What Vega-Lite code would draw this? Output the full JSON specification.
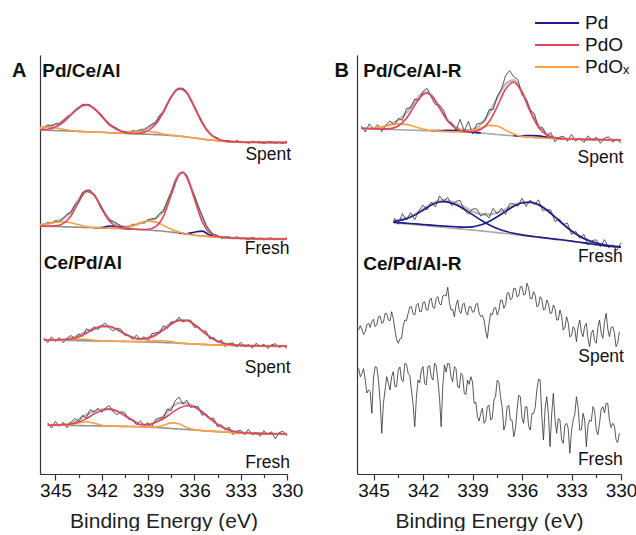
{
  "$schema": "https://vega.github.io/schema/vega-lite/v6.json",
  "background": "white",
  "padding": {"left": 12, "top": 11, "right": 0, "bottom": 0},
  "bounds": "flush",
  "spacing": 70,
  "config": {
    "font": "Liberation Sans",
    "view": {"stroke": null},
    "axis": {"grid": false},
    "axisX": {"domainColor": "#333", "tickColor": "#333", "domainWidth": 1.2, "tickWidth": 1.2, "labelFontSize": 19, "labelColor": "#111", "labelPadding": 1, "labelFlush": false, "titleFontSize": 21, "titleFontWeight": "normal", "titleColor": "#222", "titlePadding": 10},
    "axisY": {"labels": false, "ticks": false, "domainColor": "#333", "domainWidth": 1.2},
    "legend": {"labelFont": "Liberation Sans"}
  },
  "resolve": {"scale": {"color": "independent", "x": "independent", "y": "independent"}, "legend": {"color": "independent"}},
  "datasets": {
    "fitsA": [
      {"s":"A1","x":346,"bg":344,"PdO":344.2,"PdOx":346,"env":346.2},
      {"s":"A1","x":345.5,"bg":343.7,"PdO":344.7,"PdOx":346.7,"env":347.7},
      {"s":"A1","x":345,"bg":343.5,"PdO":346.9,"PdOx":346,"env":349.4},
      {"s":"A1","x":344.5,"bg":343.2,"PdO":351.6,"PdOx":344.7,"env":353.1},
      {"s":"A1","x":344,"bg":343,"PdO":359,"PdOx":343.5,"env":359.5},
      {"s":"A1","x":343.5,"bg":342.6,"PdO":366.3,"PdOx":342.6,"env":366.3},
      {"s":"A1","x":343,"bg":342.3,"PdO":369.3,"PdOx":342.3,"env":369.3},
      {"s":"A1","x":342.5,"bg":342,"PdO":365.7,"PdOx":342,"env":365.7},
      {"s":"A1","x":342,"bg":341.7,"PdO":357.7,"PdOx":341.7,"env":357.7},
      {"s":"A1","x":341.5,"bg":341.3,"PdO":349.7,"PdOx":341.3,"env":349.7},
      {"s":"A1","x":341,"bg":341,"PdO":344.4,"PdOx":341,"env":344.4},
      {"s":"A1","x":340.5,"bg":340.6,"PdO":341.6,"PdOx":341.1,"env":342.1},
      {"s":"A1","x":340,"bg":340.3,"PdO":340.5,"PdOx":341.8,"env":342},
      {"s":"A1","x":339.5,"bg":340,"PdO":340.9,"PdOx":342.7,"env":343.6},
      {"s":"A1","x":339,"bg":339.8,"PdO":343.4,"PdOx":342.8,"env":346.4},
      {"s":"A1","x":338.5,"bg":339.4,"PdO":349.9,"PdOx":341.6,"env":352.1},
      {"s":"A1","x":338,"bg":339,"PdO":362,"PdOx":340,"env":363},
      {"s":"A1","x":337.5,"bg":338.5,"PdO":376.9,"PdOx":338.8,"env":377.2},
      {"s":"A1","x":337,"bg":338,"PdO":385.5,"PdOx":338,"env":385.5},
      {"s":"A1","x":336.5,"bg":337,"PdO":381.4,"PdOx":337,"env":381.4},
      {"s":"A1","x":336,"bg":336,"PdO":367.1,"PdOx":336,"env":367.1},
      {"s":"A1","x":335.5,"bg":335,"PdO":351.4,"PdOx":335,"env":351.4},
      {"s":"A1","x":335,"bg":334,"PdO":340.5,"PdOx":334,"env":340.5},
      {"s":"A1","x":334.5,"bg":333.2,"PdO":335.1,"PdOx":333.2,"env":335.1},
      {"s":"A1","x":334,"bg":332.5,"PdO":332.9,"PdOx":332.5,"env":332.9},
      {"s":"A1","x":333,"bg":332,"PdO":332,"PdOx":332,"env":332},
      {"s":"A1","x":332,"bg":331.7,"PdO":331.7,"PdOx":331.7,"env":331.7},
      {"s":"A1","x":331,"bg":331.5,"PdO":331.5,"PdOx":331.5,"env":331.5},
      {"s":"A1","x":330,"bg":331.5,"PdO":331.5,"PdOx":331.5,"env":331.5},

      {"s":"A2","x":346,"bg":248,"PdO":248,"PdOx":249,"env":249},
      {"s":"A2","x":345.5,"bg":247.8,"PdO":247.8,"PdOx":250.3,"env":250.3},
      {"s":"A2","x":345,"bg":247.5,"PdO":248.1,"PdOx":251.7,"env":252.3},
      {"s":"A2","x":344.5,"bg":247.3,"PdO":250.4,"PdOx":252.3,"env":255.4},
      {"s":"A2","x":344,"bg":247,"PdO":258,"PdOx":251.2,"env":262.2},
      {"s":"A2","x":343.5,"bg":246.8,"PdO":271.8,"PdOx":249.3,"env":274.3},
      {"s":"A2","x":343,"bg":246.5,"PdO":282.6,"PdOx":247.5,"env":283.6},
      {"s":"A2","x":342.5,"bg":246.3,"PdO":279.2,"PdOx":246.6,"env":279.5},
      {"s":"A2","x":342,"bg":246,"PdO":265.1,"PdOx":246,"env":265.6},
      {"s":"A2","x":341.5,"bg":245.8,"PdO":252.8,"PdOx":245.8,"env":255},
      {"s":"A2","x":341,"bg":245.5,"PdO":247.2,"PdOx":245.8,"env":249.4},
      {"s":"A2","x":340.5,"bg":245.3,"PdO":245.6,"PdOx":246.5,"env":247.1},
      {"s":"A2","x":340,"bg":245,"PdO":245,"PdOx":248.3,"env":248.3},
      {"s":"A2","x":339.5,"bg":244.5,"PdO":244.5,"PdOx":250.9,"env":250.9},
      {"s":"A2","x":339,"bg":244,"PdO":244.7,"PdOx":252.7,"env":253.4},
      {"s":"A2","x":338.5,"bg":243.4,"PdO":247.4,"PdOx":251.9,"env":255.9},
      {"s":"A2","x":338,"bg":242.8,"PdO":257.9,"PdOx":248.6,"env":263.7},
      {"s":"A2","x":337.5,"bg":241.9,"PdO":279,"PdOx":244.7,"env":281.8},
      {"s":"A2","x":337,"bg":241,"PdO":299,"PdOx":242,"env":300},
      {"s":"A2","x":336.75,"bg":240.5,"PdO":301.5,"PdOx":240.8,"env":301.8},
      {"s":"A2","x":336.5,"bg":239.9,"PdO":297.2,"PdOx":240.1,"env":297.8},
      {"s":"A2","x":336,"bg":238.8,"PdO":275,"PdOx":238.8,"env":278},
      {"s":"A2","x":335.5,"bg":238,"PdO":252.5,"PdOx":238,"env":257.4},
      {"s":"A2","x":335,"bg":237.3,"PdO":241,"PdOx":237.3,"env":242.6},
      {"s":"A2","x":334.5,"bg":236.9,"PdO":237.5,"PdOx":236.9,"env":237.6},
      {"s":"A2","x":334,"bg":236.5,"PdO":236.5,"PdOx":236.5,"env":236.5},
      {"s":"A2","x":333,"bg":235.7,"PdO":235.7,"PdOx":235.7,"env":235.7},
      {"s":"A2","x":332,"bg":235.3,"PdO":235.3,"PdOx":235.3,"env":235.3},
      {"s":"A2","x":331,"bg":235,"PdO":235,"PdOx":235,"env":235},
      {"s":"A2","x":330,"bg":235,"PdO":235,"PdOx":235,"env":235},

      {"s":"A3","x":345.75,"bg":134,"PdO":134,"PdOx":134,"env":134},
      {"s":"A3","x":345.5,"bg":134,"PdO":134,"PdOx":134,"env":134},
      {"s":"A3","x":345,"bg":133.8,"PdO":133.9,"PdOx":133.8,"env":133.9},
      {"s":"A3","x":344.5,"bg":133.7,"PdO":134.2,"PdOx":134,"env":134.5},
      {"s":"A3","x":344,"bg":133.5,"PdO":135,"PdOx":134.4,"env":135.9},
      {"s":"A3","x":343.5,"bg":133.4,"PdO":137.1,"PdOx":135,"env":138.7},
      {"s":"A3","x":343,"bg":133.3,"PdO":140.7,"PdOx":134.7,"env":142.1},
      {"s":"A3","x":342.5,"bg":133.1,"PdO":144.7,"PdOx":133.8,"env":145.4},
      {"s":"A3","x":342,"bg":133,"PdO":147.6,"PdOx":133.2,"env":147.8},
      {"s":"A3","x":341.5,"bg":132.9,"PdO":147.5,"PdOx":132.9,"env":147.5},
      {"s":"A3","x":341,"bg":132.8,"PdO":144.4,"PdOx":132.8,"env":144.4},
      {"s":"A3","x":340.5,"bg":132.6,"PdO":140,"PdOx":132.6,"env":140},
      {"s":"A3","x":340,"bg":132.5,"PdO":136.6,"PdOx":132.5,"env":136.6},
      {"s":"A3","x":339.5,"bg":132.3,"PdO":135,"PdOx":132.3,"env":135},
      {"s":"A3","x":339,"bg":132.1,"PdO":135.8,"PdOx":132.6,"env":136.3},
      {"s":"A3","x":338.5,"bg":131.8,"PdO":138.8,"PdOx":133.2,"env":140.2},
      {"s":"A3","x":338,"bg":131.5,"PdO":143.9,"PdOx":133.3,"env":145.7},
      {"s":"A3","x":337.5,"bg":131.2,"PdO":149.6,"PdOx":132.4,"env":150.8},
      {"s":"A3","x":337,"bg":130.8,"PdO":153.5,"PdOx":131.2,"env":153.9},
      {"s":"A3","x":336.5,"bg":130.4,"PdO":153.5,"PdOx":130.4,"env":153.5},
      {"s":"A3","x":336,"bg":130,"PdO":149.5,"PdOx":130,"env":149.5},
      {"s":"A3","x":335.5,"bg":129.6,"PdO":143.2,"PdOx":129.6,"env":143.2},
      {"s":"A3","x":335,"bg":129.3,"PdO":137.2,"PdOx":129.3,"env":137.2},
      {"s":"A3","x":334.5,"bg":129,"PdO":132.8,"PdOx":129,"env":132.8},
      {"s":"A3","x":334,"bg":128.8,"PdO":130.3,"PdOx":128.8,"env":130.3},
      {"s":"A3","x":333.5,"bg":128.6,"PdO":129.1,"PdOx":128.6,"env":129.1},
      {"s":"A3","x":333,"bg":128.5,"PdO":128.6,"PdOx":128.5,"env":128.6},
      {"s":"A3","x":332,"bg":128.2,"PdO":128.2,"PdOx":128.2,"env":128.2},
      {"s":"A3","x":331,"bg":128,"PdO":128,"PdOx":128,"env":128},
      {"s":"A3","x":330,"bg":128,"PdO":128,"PdOx":128,"env":128},

      {"s":"A4","x":345.5,"bg":49,"PdO":49,"PdOx":49,"env":49},
      {"s":"A4","x":345,"bg":48.9,"PdO":48.9,"PdOx":48.9,"env":48.9},
      {"s":"A4","x":344.5,"bg":48.7,"PdO":49.2,"PdOx":48.7,"env":49.2},
      {"s":"A4","x":344,"bg":48.6,"PdO":50,"PdOx":49.4,"env":50.8},
      {"s":"A4","x":343.5,"bg":48.5,"PdO":52,"PdOx":51.1,"env":54.6},
      {"s":"A4","x":343,"bg":48.3,"PdO":55.4,"PdOx":52.3,"env":59.4},
      {"s":"A4","x":342.5,"bg":48.2,"PdO":59.9,"PdOx":50.8,"env":62.5},
      {"s":"A4","x":342,"bg":48,"PdO":63.6,"PdOx":48.8,"env":64.4},
      {"s":"A4","x":341.5,"bg":47.9,"PdO":64.9,"PdOx":48,"env":65},
      {"s":"A4","x":341,"bg":47.8,"PdO":62.8,"PdOx":47.8,"env":62.8},
      {"s":"A4","x":340.5,"bg":47.6,"PdO":58.4,"PdOx":47.6,"env":58.4},
      {"s":"A4","x":340,"bg":47.5,"PdO":53.8,"PdOx":47.5,"env":53.8},
      {"s":"A4","x":339.5,"bg":47.3,"PdO":49.5,"PdOx":47.3,"env":49.5},
      {"s":"A4","x":339,"bg":47,"PdO":49.3,"PdOx":47,"env":49.3},
      {"s":"A4","x":338.5,"bg":46.5,"PdO":51.7,"PdOx":47.1,"env":52.3},
      {"s":"A4","x":338,"bg":46,"PdO":55.3,"PdOx":48.7,"env":58},
      {"s":"A4","x":337.5,"bg":45.5,"PdO":60.7,"PdOx":51.1,"env":66.3},
      {"s":"A4","x":337,"bg":45,"PdO":65.7,"PdOx":50.2,"env":70.9},
      {"s":"A4","x":336.5,"bg":44.5,"PdO":68.3,"PdOx":46.6,"env":70.4},
      {"s":"A4","x":336,"bg":44,"PdO":67,"PdOx":44.4,"env":67.4},
      {"s":"A4","x":335.5,"bg":43.4,"PdO":62.1,"PdOx":43.4,"env":62.1},
      {"s":"A4","x":335,"bg":42.9,"PdO":55.6,"PdOx":42.9,"env":55.6},
      {"s":"A4","x":334.5,"bg":42.4,"PdO":49.7,"PdOx":42.4,"env":49.7},
      {"s":"A4","x":334,"bg":41.9,"PdO":45.4,"PdOx":41.9,"env":45.4},
      {"s":"A4","x":333.5,"bg":41.4,"PdO":42.8,"PdOx":41.4,"env":42.8},
      {"s":"A4","x":333,"bg":41,"PdO":41.5,"PdOx":41,"env":41.5},
      {"s":"A4","x":332,"bg":40.6,"PdO":40.6,"PdOx":40.6,"env":40.6},
      {"s":"A4","x":331,"bg":40.2,"PdO":40.2,"PdOx":40.2,"env":40.2},
      {"s":"A4","x":330,"bg":40,"PdO":40,"PdOx":40,"env":40}
    ],
    "pdA": [
      {"s":"A2a","x":342.5,"y":246.3},{"s":"A2a","x":342,"y":246.5},{"s":"A2a","x":341.5,"y":248},{"s":"A2a","x":341,"y":247.4},{"s":"A2a","x":340.5,"y":245.6},{"s":"A2a","x":340,"y":245},
      {"s":"A2b","x":337,"y":241},{"s":"A2b","x":336.5,"y":240.3},{"s":"A2b","x":336,"y":241.8},{"s":"A2b","x":335.5,"y":242.9},{"s":"A2b","x":335,"y":238.9},{"s":"A2b","x":334.5,"y":237},{"s":"A2b","x":334,"y":236.5}
    ],
    "rawA": [
      {"s":"A1","x":346,"y":347},{"s":"A1","x":345.75,"y":345.8},{"s":"A1","x":345.5,"y":349.2},{"s":"A1","x":345.25,"y":348},
      {"s":"A1","x":345,"y":350.4},{"s":"A1","x":344.75,"y":349.8},{"s":"A1","x":344.5,"y":353.4},{"s":"A1","x":344.25,"y":357.5},
      {"s":"A1","x":344,"y":358.6},{"s":"A1","x":343.75,"y":363.5},{"s":"A1","x":343.5,"y":365},{"s":"A1","x":343.25,"y":369.9},
      {"s":"A1","x":343,"y":369.1},{"s":"A1","x":342.75,"y":369.2},{"s":"A1","x":342.5,"y":364.6},{"s":"A1","x":342.25,"y":362.2},
      {"s":"A1","x":342,"y":359},{"s":"A1","x":341.75,"y":352.9},{"s":"A1","x":341.5,"y":348.3},{"s":"A1","x":341.25,"y":347.7},
      {"s":"A1","x":341,"y":345.5},{"s":"A1","x":340.75,"y":342.6},{"s":"A1","x":340.5,"y":342.3},{"s":"A1","x":340.25,"y":341},
      {"s":"A1","x":340,"y":343.5},{"s":"A1","x":339.75,"y":342.5},{"s":"A1","x":339.5,"y":344.4},{"s":"A1","x":339.25,"y":343.5},
      {"s":"A1","x":339,"y":347.4},{"s":"A1","x":338.75,"y":349.6},{"s":"A1","x":338.5,"y":351.4},{"s":"A1","x":338.25,"y":358.7},
      {"s":"A1","x":338,"y":361.8},{"s":"A1","x":337.75,"y":370.6},{"s":"A1","x":337.5,"y":376.8},{"s":"A1","x":337.25,"y":383.4},
      {"s":"A1","x":337,"y":384.6},{"s":"A1","x":336.75,"y":386},{"s":"A1","x":336.5,"y":382.4},{"s":"A1","x":336.25,"y":373.7},
      {"s":"A1","x":336,"y":367.6},{"s":"A1","x":335.75,"y":359.3},{"s":"A1","x":335.5,"y":352.7},{"s":"A1","x":335.25,"y":344.5},
      {"s":"A1","x":335,"y":341.2},{"s":"A1","x":334.75,"y":337.1},{"s":"A1","x":334.5,"y":336.2},{"s":"A1","x":334.25,"y":332.6},
      {"s":"A1","x":334,"y":333.2},{"s":"A1","x":333.75,"y":333.3},{"s":"A1","x":333.5,"y":331.4},{"s":"A1","x":333.25,"y":333.6},
      {"s":"A1","x":333,"y":331.4},{"s":"A1","x":332.75,"y":332.3},{"s":"A1","x":332.5,"y":330.7},{"s":"A1","x":332.25,"y":333},
      {"s":"A1","x":332,"y":331.4},{"s":"A1","x":331.75,"y":332.5},{"s":"A1","x":331.5,"y":330.4},{"s":"A1","x":331.25,"y":332.2},
      {"s":"A1","x":331,"y":332.5},{"s":"A1","x":330.75,"y":330.8},{"s":"A1","x":330.5,"y":331.7},{"s":"A1","x":330.25,"y":330.5},
      {"s":"A1","x":330,"y":332.9},

      {"s":"A2","x":346,"y":249.8},{"s":"A2","x":345.75,"y":248.4},{"s":"A2","x":345.5,"y":251.8},{"s":"A2","x":345.25,"y":250.8},
      {"s":"A2","x":345,"y":253.3},{"s":"A2","x":344.75,"y":252.3},{"s":"A2","x":344.5,"y":255.7},{"s":"A2","x":344.25,"y":260},
      {"s":"A2","x":344,"y":261.3},{"s":"A2","x":343.75,"y":268.8},{"s":"A2","x":343.5,"y":273},{"s":"A2","x":343.25,"y":281.4},
      {"s":"A2","x":343,"y":283.4},{"s":"A2","x":342.75,"y":284.1},{"s":"A2","x":342.5,"y":278.4},{"s":"A2","x":342.25,"y":273.5},
      {"s":"A2","x":342,"y":266.9},{"s":"A2","x":341.75,"y":259.2},{"s":"A2","x":341.5,"y":253.6},{"s":"A2","x":341.25,"y":252.7},
      {"s":"A2","x":341,"y":250.5},{"s":"A2","x":340.75,"y":247.6},{"s":"A2","x":340.5,"y":247.3},{"s":"A2","x":340.25,"y":246.7},
      {"s":"A2","x":340,"y":249.8},{"s":"A2","x":339.75,"y":249.3},{"s":"A2","x":339.5,"y":251.7},{"s":"A2","x":339.25,"y":250.7},
      {"s":"A2","x":339,"y":254.4},{"s":"A2","x":338.75,"y":255.1},{"s":"A2","x":338.5,"y":255.2},{"s":"A2","x":338.25,"y":260.7},
      {"s":"A2","x":338,"y":262.5},{"s":"A2","x":337.75,"y":273.1},{"s":"A2","x":337.5,"y":281.4},{"s":"A2","x":337.25,"y":292.9},
      {"s":"A2","x":337,"y":299.1},{"s":"A2","x":336.75,"y":301.9},{"s":"A2","x":336.5,"y":298.8},{"s":"A2","x":336.25,"y":286.7},
      {"s":"A2","x":336,"y":278.5},{"s":"A2","x":335.75,"y":267.3},{"s":"A2","x":335.5,"y":258.7},{"s":"A2","x":335.25,"y":248.5},
      {"s":"A2","x":335,"y":243.3},{"s":"A2","x":334.75,"y":239.5},{"s":"A2","x":334.5,"y":238.7},{"s":"A2","x":334.25,"y":235.6},
      {"s":"A2","x":334,"y":236.8},{"s":"A2","x":333.75,"y":237.2},{"s":"A2","x":333.5,"y":235.3},{"s":"A2","x":333.25,"y":237.4},
      {"s":"A2","x":333,"y":235.1},{"s":"A2","x":332.75,"y":236},{"s":"A2","x":332.5,"y":234.4},{"s":"A2","x":332.25,"y":236.6},
      {"s":"A2","x":332,"y":235},{"s":"A2","x":331.75,"y":236},{"s":"A2","x":331.5,"y":234},{"s":"A2","x":331.25,"y":235.7},
      {"s":"A2","x":331,"y":236},{"s":"A2","x":330.75,"y":234.3},{"s":"A2","x":330.5,"y":235.2},{"s":"A2","x":330.25,"y":234},
      {"s":"A2","x":330,"y":236.4},

      {"s":"A3","x":345.75,"y":135.9},{"s":"A3","x":345.5,"y":131.4},{"s":"A3","x":345.25,"y":137.2},{"s":"A3","x":345,"y":132.8},
      {"s":"A3","x":344.75,"y":136.4},{"s":"A3","x":344.5,"y":131.2},{"s":"A3","x":344.25,"y":135.9},{"s":"A3","x":344,"y":138.5},
      {"s":"A3","x":343.75,"y":135.3},{"s":"A3","x":343.5,"y":140},{"s":"A3","x":343.25,"y":137.5},{"s":"A3","x":343,"y":145.2},
      {"s":"A3","x":342.75,"y":143.4},{"s":"A3","x":342.5,"y":147.4},{"s":"A3","x":342.25,"y":144.4},{"s":"A3","x":342,"y":148.9},
      {"s":"A3","x":341.75,"y":150.9},{"s":"A3","x":341.5,"y":145.7},{"s":"A3","x":341.25,"y":143.1},{"s":"A3","x":341,"y":145.9},
      {"s":"A3","x":340.75,"y":144.6},{"s":"A3","x":340.5,"y":138.7},{"s":"A3","x":340.25,"y":138.7},{"s":"A3","x":340,"y":134.4},
      {"s":"A3","x":339.75,"y":139.1},{"s":"A3","x":339.5,"y":134.3},{"s":"A3","x":339.25,"y":137.3},{"s":"A3","x":339,"y":133},
      {"s":"A3","x":338.75,"y":140.4},{"s":"A3","x":338.5,"y":141.1},{"s":"A3","x":338.25,"y":141.5},{"s":"A3","x":338,"y":148.3},
      {"s":"A3","x":337.75,"y":145.6},{"s":"A3","x":337.5,"y":152.1},{"s":"A3","x":337.25,"y":151.5},{"s":"A3","x":337,"y":157},
      {"s":"A3","x":336.75,"y":152},{"s":"A3","x":336.5,"y":153.7},{"s":"A3","x":336.25,"y":154},{"s":"A3","x":336,"y":146.6},
      {"s":"A3","x":335.75,"y":147.5},{"s":"A3","x":335.5,"y":142.8},{"s":"A3","x":335.25,"y":143.1},{"s":"A3","x":335,"y":135},
      {"s":"A3","x":334.75,"y":136.5},{"s":"A3","x":334.5,"y":131.7},{"s":"A3","x":334.25,"y":133.9},{"s":"A3","x":334,"y":127.2},
      {"s":"A3","x":333.75,"y":130.4},{"s":"A3","x":333.5,"y":131.1},{"s":"A3","x":333.25,"y":127},{"s":"A3","x":333,"y":131.9},
      {"s":"A3","x":332.75,"y":127.2},{"s":"A3","x":332.5,"y":129.3},{"s":"A3","x":332.25,"y":125.9},{"s":"A3","x":332,"y":130.8},
      {"s":"A3","x":331.75,"y":127.5},{"s":"A3","x":331.5,"y":129.9},{"s":"A3","x":331.25,"y":125.5},{"s":"A3","x":331,"y":129.3},
      {"s":"A3","x":330.75,"y":130.2},{"s":"A3","x":330.5,"y":126.5},{"s":"A3","x":330.25,"y":128.4},{"s":"A3","x":330,"y":125.8},

      {"s":"A4","x":345.5,"y":51},{"s":"A4","x":345.25,"y":46},{"s":"A4","x":345,"y":52.7},{"s":"A4","x":344.75,"y":47.7},
      {"s":"A4","x":344.5,"y":51.7},{"s":"A4","x":344.25,"y":46.2},{"s":"A4","x":344,"y":51.6},{"s":"A4","x":343.75,"y":55.7},
      {"s":"A4","x":343.5,"y":52.3},{"s":"A4","x":343.25,"y":58.5},{"s":"A4","x":343,"y":56.1},{"s":"A4","x":342.75,"y":64.5},
      {"s":"A4","x":342.5,"y":62},{"s":"A4","x":342.25,"y":65.8},{"s":"A4","x":342,"y":61.6},{"s":"A4","x":341.75,"y":66.2},
      {"s":"A4","x":341.5,"y":68.3},{"s":"A4","x":341.25,"y":62},{"s":"A4","x":341,"y":59.3},{"s":"A4","x":340.75,"y":62.4},
      {"s":"A4","x":340.5,"y":61.2},{"s":"A4","x":340.25,"y":54.6},{"s":"A4","x":340,"y":54.3},{"s":"A4","x":339.75,"y":49.1},
      {"s":"A4","x":339.5,"y":53.3},{"s":"A4","x":339.25,"y":48.6},{"s":"A4","x":339,"y":51.3},{"s":"A4","x":338.75,"y":47},
      {"s":"A4","x":338.5,"y":54.8},{"s":"A4","x":338.25,"y":56.1},{"s":"A4","x":338,"y":56.2},{"s":"A4","x":337.75,"y":65.1},
      {"s":"A4","x":337.5,"y":63.3},{"s":"A4","x":337.25,"y":73.1},{"s":"A4","x":337,"y":76.9},{"s":"A4","x":336.75,"y":70},
      {"s":"A4","x":336.5,"y":73.9},{"s":"A4","x":336.25,"y":66.6},{"s":"A4","x":336,"y":67.7},{"s":"A4","x":335.75,"y":67.2},
      {"s":"A4","x":335.5,"y":58.8},{"s":"A4","x":335.25,"y":60.1},{"s":"A4","x":335,"y":55.1},{"s":"A4","x":334.75,"y":55.9},
      {"s":"A4","x":334.5,"y":47.2},{"s":"A4","x":334.25,"y":49.3},{"s":"A4","x":334,"y":44.1},{"s":"A4","x":333.75,"y":46.9},
      {"s":"A4","x":333.5,"y":39.3},{"s":"A4","x":333.25,"y":42.9},{"s":"A4","x":333,"y":43.8},{"s":"A4","x":332.75,"y":39.2},
      {"s":"A4","x":332.5,"y":44.6},{"s":"A4","x":332.25,"y":39.2},{"s":"A4","x":332,"y":41.6},{"s":"A4","x":331.75,"y":37.7},
      {"s":"A4","x":331.5,"y":43.4},{"s":"A4","x":331.25,"y":39.5},{"s":"A4","x":331,"y":42.2},{"s":"A4","x":330.75,"y":35.2},
      {"s":"A4","x":330.5,"y":41.6},{"s":"A4","x":330.25,"y":42.6},{"s":"A4","x":330,"y":38.2}
    ],
    "textA": [
      {"t":"A","x":347.34,"y":397.3,"k":"p"},
      {"t":"Pd/Ce/Al","x":345.85,"y":397.5,"k":"h"},
      {"t":"Ce/Pd/Al","x":345.75,"y":205,"k":"h"},
      {"t":"Spent","x":329.73,"y":314.5,"k":"s"},
      {"t":"Fresh","x":329.84,"y":220,"k":"s"},
      {"t":"Spent","x":329.77,"y":101.5,"k":"s"},
      {"t":"Fresh","x":329.8,"y":6,"k":"s"}
    ],
    "fitsB": [
      {"s":"B1","x":345.75,"bg":345.7,"PdO":345.7,"PdOx":345.7,"env":345.7},
      {"s":"B1","x":345.5,"bg":345.5,"PdO":345.5,"PdOx":345.6,"env":345.6},
      {"s":"B1","x":345,"bg":345.2,"PdO":345.2,"PdOx":345.8,"env":345.8},
      {"s":"B1","x":344.5,"bg":344.9,"PdO":344.9,"PdOx":346.9,"env":346.9},
      {"s":"B1","x":344,"bg":344.6,"PdO":345.4,"PdOx":348.7,"env":349.5},
      {"s":"B1","x":343.5,"bg":344.3,"PdO":348,"PdOx":350.1,"env":353.8},
      {"s":"B1","x":343,"bg":344,"PdO":355.7,"PdOx":349.6,"env":361.3},
      {"s":"B1","x":342.5,"bg":343.7,"PdO":368.7,"PdOx":347.3,"env":372.3},
      {"s":"B1","x":342,"bg":343.4,"PdO":379.5,"PdOx":345,"env":381.1},
      {"s":"B1","x":341.75,"bg":343.25,"PdO":380.75,"PdOx":344.25,"env":381.75},
      {"s":"B1","x":341.5,"bg":343.1,"PdO":378.4,"PdOx":343.6,"env":379.2},
      {"s":"B1","x":341,"bg":342.8,"PdO":366.1,"PdOx":342.9,"env":366.9},
      {"s":"B1","x":340.5,"bg":342.5,"PdO":352.9,"PdOx":342.5,"env":354},
      {"s":"B1","x":340,"bg":342.2,"PdO":345.4,"PdOx":342.2,"env":346.6},
      {"s":"B1","x":339.5,"bg":341.9,"PdO":342.6,"PdOx":342.3,"env":343.8},
      {"s":"B1","x":339,"bg":341.5,"PdO":342.3,"PdOx":343.3,"env":344.5},
      {"s":"B1","x":338.5,"bg":340.9,"PdO":344.5,"PdOx":345.9,"env":349.6},
      {"s":"B1","x":338,"bg":340.2,"PdO":352.2,"PdOx":348.6,"env":360.6},
      {"s":"B1","x":337.5,"bg":339.5,"PdO":367.4,"PdOx":348,"env":375.9},
      {"s":"B1","x":337,"bg":338.8,"PdO":384.8,"PdOx":343.9,"env":389.9},
      {"s":"B1","x":336.5,"bg":338.1,"PdO":391.7,"PdOx":340,"env":393.8},
      {"s":"B1","x":336,"bg":337.4,"PdO":381.5,"PdOx":337.8,"env":382.7},
      {"s":"B1","x":335.5,"bg":336.7,"PdO":362.4,"PdOx":336.7,"env":364.2},
      {"s":"B1","x":335,"bg":336.2,"PdO":346.8,"PdOx":336.2,"env":348.7},
      {"s":"B1","x":334.5,"bg":335.8,"PdO":338.9,"PdOx":335.8,"env":339.9},
      {"s":"B1","x":334,"bg":335.5,"PdO":336.1,"PdOx":335.5,"env":336.4},
      {"s":"B1","x":333.5,"bg":335.2,"PdO":335.2,"PdOx":335.2,"env":335.2},
      {"s":"B1","x":333,"bg":335,"PdO":335,"PdOx":335,"env":335},
      {"s":"B1","x":332,"bg":334.6,"PdO":334.6,"PdOx":334.6,"env":334.6},
      {"s":"B1","x":331,"bg":334.2,"PdO":334.2,"PdOx":334.2,"env":334.2},
      {"s":"B1","x":330,"bg":334,"PdO":334,"PdOx":334,"env":334},

      {"s":"B2","x":343.8,"bg":251.3,"env":253.2},
      {"s":"B2","x":343.5,"bg":250.9,"env":253.9},
      {"s":"B2","x":343,"bg":250.1,"env":256},
      {"s":"B2","x":342.5,"bg":249.4,"env":259.7},
      {"s":"B2","x":342,"bg":248.6,"env":264.7},
      {"s":"B2","x":341.5,"bg":247.9,"env":269.9},
      {"s":"B2","x":341,"bg":247.1,"env":273.2},
      {"s":"B2","x":340.75,"bg":246.7,"env":273.7},
      {"s":"B2","x":340.5,"bg":246.3,"env":273.3},
      {"s":"B2","x":340,"bg":245.5,"env":270.9},
      {"s":"B2","x":339.5,"bg":244.7,"env":266.9},
      {"s":"B2","x":339,"bg":243.9,"env":262.5},
      {"s":"B2","x":338.5,"bg":243.1,"env":260},
      {"s":"B2","x":338,"bg":242.3,"env":259.5},
      {"s":"B2","x":337.5,"bg":241.4,"env":261.3},
      {"s":"B2","x":337,"bg":240.5,"env":264.8},
      {"s":"B2","x":336.5,"bg":239.6,"env":268.8},
      {"s":"B2","x":336,"bg":238.6,"env":271.5},
      {"s":"B2","x":335.5,"bg":237.7,"env":271.9},
      {"s":"B2","x":335,"bg":236.8,"env":269.3},
      {"s":"B2","x":334.5,"bg":235.9,"env":264},
      {"s":"B2","x":334,"bg":234.9,"env":257},
      {"s":"B2","x":333.5,"bg":234,"env":249.8},
      {"s":"B2","x":333,"bg":232.9,"env":243.1},
      {"s":"B2","x":332.5,"bg":231.7,"env":237.7},
      {"s":"B2","x":332,"bg":230.6,"env":233.8},
      {"s":"B2","x":331.5,"bg":229.4,"env":231},
      {"s":"B2","x":331,"bg":228.3,"env":229},
      {"s":"B2","x":330.5,"bg":227.5,"env":227.8},
      {"s":"B2","x":330,"bg":227,"env":227.1}
    ],
    "pdB": [
      {"s":"B1a","x":341.5,"y":343.4},{"s":"B1a","x":341,"y":343.5},{"s":"B1a","x":340.5,"y":343.6},{"s":"B1a","x":340,"y":343.4},{"s":"B1a","x":339.5,"y":342.7},{"s":"B1a","x":339,"y":341.9},{"s":"B1a","x":338.5,"y":341},
      {"s":"B1b","x":336.5,"y":338.3},{"s":"B1b","x":336,"y":338.2},{"s":"B1b","x":335.5,"y":338.5},{"s":"B1b","x":335,"y":338.1},{"s":"B1b","x":334.5,"y":336.8},{"s":"B1b","x":334,"y":335.8},{"s":"B1b","x":333.5,"y":335.2},
      {"s":"B2a","x":343.8,"y":252.7},{"s":"B2a","x":343.5,"y":253.3},{"s":"B2a","x":343,"y":255.3},{"s":"B2a","x":342.5,"y":258.9},{"s":"B2a","x":342,"y":263.8},
      {"s":"B2a","x":341.5,"y":268.9},{"s":"B2a","x":341,"y":272},{"s":"B2a","x":340.75,"y":272.4},{"s":"B2a","x":340.5,"y":271.9},{"s":"B2a","x":340,"y":269.2},
      {"s":"B2a","x":339.5,"y":264.7},{"s":"B2a","x":339,"y":259.3},{"s":"B2a","x":338.5,"y":254},{"s":"B2a","x":338,"y":249.3},{"s":"B2a","x":337.5,"y":245.5},
      {"s":"B2a","x":337,"y":242.7},{"s":"B2a","x":336.5,"y":240.7},{"s":"B2a","x":336,"y":239.1},{"s":"B2a","x":335.5,"y":237.9},{"s":"B2a","x":335,"y":236.9},
      {"s":"B2a","x":334.5,"y":235.9},{"s":"B2a","x":334,"y":234.9},{"s":"B2a","x":333.5,"y":234},{"s":"B2a","x":333,"y":232.9},{"s":"B2a","x":332.5,"y":231.7},
      {"s":"B2a","x":332,"y":230.6},{"s":"B2a","x":331.5,"y":229.4},{"s":"B2a","x":331,"y":228.3},{"s":"B2a","x":330.5,"y":227.5},{"s":"B2a","x":330,"y":227},
      {"s":"B2b","x":343.8,"y":251.8},{"s":"B2b","x":343.5,"y":251.5},{"s":"B2b","x":343,"y":250.8},{"s":"B2b","x":342.5,"y":250.2},{"s":"B2b","x":342,"y":249.5},
      {"s":"B2b","x":341.5,"y":248.9},{"s":"B2b","x":341,"y":248.3},{"s":"B2b","x":340.75,"y":248},{"s":"B2b","x":340.5,"y":247.7},{"s":"B2b","x":340,"y":247.2},
      {"s":"B2b","x":339.5,"y":246.9},{"s":"B2b","x":339,"y":247.1},{"s":"B2b","x":338.5,"y":249.1},{"s":"B2b","x":338,"y":252.5},{"s":"B2b","x":337.5,"y":257.2},
      {"s":"B2b","x":337,"y":262.6},{"s":"B2b","x":336.5,"y":267.7},{"s":"B2b","x":336,"y":271},{"s":"B2b","x":335.5,"y":271.7},{"s":"B2b","x":335,"y":269.2},
      {"s":"B2b","x":334.5,"y":264},{"s":"B2b","x":334,"y":257},{"s":"B2b","x":333.5,"y":249.8},{"s":"B2b","x":333,"y":243.1},{"s":"B2b","x":332.5,"y":237.7},
      {"s":"B2b","x":332,"y":233.8},{"s":"B2b","x":331.5,"y":231},{"s":"B2b","x":331,"y":229},{"s":"B2b","x":330.5,"y":227.8},{"s":"B2b","x":330,"y":227.1}
    ],
    "rawB": [
      {"s":"B1","x":345.75,"y":348.1},{"s":"B1","x":345.5,"y":342},{"s":"B1","x":345.25,"y":350.2},{"s":"B1","x":345,"y":344.3},
      {"s":"B1","x":344.75,"y":349.4},{"s":"B1","x":344.5,"y":342.4},{"s":"B1","x":344.25,"y":349.1},{"s":"B1","x":344,"y":353.1},
      {"s":"B1","x":343.75,"y":348.9},{"s":"B1","x":343.5,"y":355.6},{"s":"B1","x":343.25,"y":353.6},{"s":"B1","x":343,"y":365.5},
      {"s":"B1","x":342.75,"y":366.2},{"s":"B1","x":342.5,"y":375},{"s":"B1","x":342.25,"y":373.7},{"s":"B1","x":342,"y":382.6},
      {"s":"B1","x":341.75,"y":385.6},{"s":"B1","x":341.5,"y":376.8},{"s":"B1","x":341.25,"y":369.3},{"s":"B1","x":341,"y":369},
      {"s":"B1","x":340.75,"y":363.8},{"s":"B1","x":340.5,"y":352.2},{"s":"B1","x":340.25,"y":350.9},{"s":"B1","x":340,"y":343.6},
      {"s":"B1","x":339.75,"y":354.7},{"s":"B1","x":339.5,"y":342.9},{"s":"B1","x":339.25,"y":352.6},{"s":"B1","x":339,"y":340},
      {"s":"B1","x":338.75,"y":350},{"s":"B1","x":338.5,"y":350.8},{"s":"B1","x":338.25,"y":352.9},{"s":"B1","x":338,"y":364.2},
      {"s":"B1","x":337.75,"y":364.4},{"s":"B1","x":337.5,"y":377.7},{"s":"B1","x":337.25,"y":384.8},{"s":"B1","x":337,"y":398.1},
      {"s":"B1","x":336.75,"y":403.5},{"s":"B1","x":336.5,"y":397.1},{"s":"B1","x":336.25,"y":394.5},{"s":"B1","x":336,"y":378.8},
      {"s":"B1","x":335.75,"y":375},{"s":"B1","x":335.5,"y":363.6},{"s":"B1","x":335.25,"y":360.4},{"s":"B1","x":335,"y":345.7},
      {"s":"B1","x":334.75,"y":346.4},{"s":"B1","x":334.5,"y":338.4},{"s":"B1","x":334.25,"y":341.3},{"s":"B1","x":334,"y":332.2},
      {"s":"B1","x":333.75,"y":336.7},{"s":"B1","x":333.5,"y":337.9},{"s":"B1","x":333.25,"y":332.7},{"s":"B1","x":333,"y":339.5},
      {"s":"B1","x":332.75,"y":333.1},{"s":"B1","x":332.5,"y":336},{"s":"B1","x":332.25,"y":331.4},{"s":"B1","x":332,"y":338.2},
      {"s":"B1","x":331.75,"y":333.6},{"s":"B1","x":331.5,"y":336.8},{"s":"B1","x":331.25,"y":330.7},{"s":"B1","x":331,"y":336},
      {"s":"B1","x":330.75,"y":337.2},{"s":"B1","x":330.5,"y":332},{"s":"B1","x":330.25,"y":334.7},{"s":"B1","x":330,"y":331},

      {"s":"B2","x":343.75,"y":256.1},{"s":"B2","x":343.5,"y":249.7},{"s":"B2","x":343.25,"y":260.3},{"s":"B2","x":343,"y":254.2},
      {"s":"B2","x":342.75,"y":261.4},{"s":"B2","x":342.5,"y":254.4},{"s":"B2","x":342.25,"y":263.3},{"s":"B2","x":342,"y":268.9},
      {"s":"B2","x":341.75,"y":264.1},{"s":"B2","x":341.5,"y":272},{"s":"B2","x":341.25,"y":267},{"s":"B2","x":341,"y":278.1},
      {"s":"B2","x":340.75,"y":273},{"s":"B2","x":340.5,"y":276.5},{"s":"B2","x":340.25,"y":268.2},{"s":"B2","x":340,"y":272.7},
      {"s":"B2","x":339.75,"y":273.5},{"s":"B2","x":339.5,"y":264.1},{"s":"B2","x":339.25,"y":259.8},{"s":"B2","x":339,"y":265},
      {"s":"B2","x":338.75,"y":265.2},{"s":"B2","x":338.5,"y":257.9},{"s":"B2","x":338.25,"y":260.5},{"s":"B2","x":338,"y":256},
      {"s":"B2","x":337.75,"y":265.7},{"s":"B2","x":337.5,"y":260.2},{"s":"B2","x":337.25,"y":265.8},{"s":"B2","x":337,"y":259.5},
      {"s":"B2","x":336.75,"y":270.3},{"s":"B2","x":336.5,"y":270.2},{"s":"B2","x":336.25,"y":267.7},{"s":"B2","x":336,"y":275.7},
      {"s":"B2","x":335.75,"y":267.6},{"s":"B2","x":335.5,"y":274},{"s":"B2","x":335.25,"y":269.2},{"s":"B2","x":335,"y":274.2},
      {"s":"B2","x":334.75,"y":263.5},{"s":"B2","x":334.5,"y":264.4},{"s":"B2","x":334.25,"y":264},{"s":"B2","x":334,"y":252.4},
      {"s":"B2","x":333.75,"y":255.2},{"s":"B2","x":333.5,"y":249.1},{"s":"B2","x":333.25,"y":251.1},{"s":"B2","x":333,"y":239.6},
      {"s":"B2","x":332.75,"y":242.9},{"s":"B2","x":332.5,"y":235.9},{"s":"B2","x":332.25,"y":239.7},{"s":"B2","x":332,"y":228.9},
      {"s":"B2","x":331.75,"y":233.5},{"s":"B2","x":331.5,"y":234.2},{"s":"B2","x":331.25,"y":227.2},{"s":"B2","x":331,"y":234.3},
      {"s":"B2","x":330.75,"y":226.3},{"s":"B2","x":330.5,"y":229.2},{"s":"B2","x":330.25,"y":223.6},{"s":"B2","x":330,"y":231.3},

      {"s":"B3","x":345.9,"y":144},{"s":"B3","x":345.7,"y":144.7},{"s":"B3","x":345.5,"y":142.3},{"s":"B3","x":345.3,"y":150.7},
      {"s":"B3","x":345.1,"y":152.3},{"s":"B3","x":344.9,"y":147.3},{"s":"B3","x":344.7,"y":157.3},{"s":"B3","x":344.5,"y":150.7},
      {"s":"B3","x":344.3,"y":160.7},{"s":"B3","x":344.1,"y":154},{"s":"B3","x":343.9,"y":162.3},{"s":"B3","x":343.7,"y":144},
      {"s":"B3","x":343.5,"y":130.7},{"s":"B3","x":343.3,"y":135.7},{"s":"B3","x":343.1,"y":154},{"s":"B3","x":342.9,"y":160.7},
      {"s":"B3","x":342.7,"y":167.3},{"s":"B3","x":342.5,"y":159},{"s":"B3","x":342.3,"y":170.7},{"s":"B3","x":342.1,"y":162.3},
      {"s":"B3","x":341.9,"y":172.3},{"s":"B3","x":341.7,"y":164},{"s":"B3","x":341.5,"y":175.7},{"s":"B3","x":341.3,"y":165.7},
      {"s":"B3","x":341.1,"y":177.3},{"s":"B3","x":340.9,"y":169},{"s":"B3","x":340.7,"y":179},{"s":"B3","x":340.5,"y":186.7},
      {"s":"B3","x":340.3,"y":164},{"s":"B3","x":340.1,"y":157.3},{"s":"B3","x":339.9,"y":174},{"s":"B3","x":339.7,"y":160.7},
      {"s":"B3","x":339.5,"y":170.7},{"s":"B3","x":339.3,"y":159},{"s":"B3","x":339.1,"y":167.3},{"s":"B3","x":338.9,"y":162.3},
      {"s":"B3","x":338.7,"y":170.7},{"s":"B3","x":338.5,"y":157.3},{"s":"B3","x":338.3,"y":154},{"s":"B3","x":338.1,"y":135.7},
      {"s":"B3","x":337.9,"y":160.7},{"s":"B3","x":337.7,"y":165.7},{"s":"B3","x":337.5,"y":159},{"s":"B3","x":337.3,"y":174},
      {"s":"B3","x":337.1,"y":165.7},{"s":"B3","x":336.9,"y":180.7},{"s":"B3","x":336.7,"y":174},{"s":"B3","x":336.5,"y":185.7},
      {"s":"B3","x":336.3,"y":177.3},{"s":"B3","x":336.1,"y":187.3},{"s":"B3","x":335.9,"y":179},{"s":"B3","x":335.7,"y":190.7},
      {"s":"B3","x":335.5,"y":175.7},{"s":"B3","x":335.3,"y":182.3},{"s":"B3","x":335.1,"y":167.3},{"s":"B3","x":334.9,"y":177.3},
      {"s":"B3","x":334.7,"y":164},{"s":"B3","x":334.5,"y":174},{"s":"B3","x":334.3,"y":160.7},{"s":"B3","x":334.1,"y":169},
      {"s":"B3","x":333.9,"y":154},{"s":"B3","x":333.7,"y":164},{"s":"B3","x":333.5,"y":144},{"s":"B3","x":333.3,"y":157.3},
      {"s":"B3","x":333.1,"y":137.3},{"s":"B3","x":332.9,"y":147.3},{"s":"B3","x":332.7,"y":132.3},{"s":"B3","x":332.5,"y":154},
      {"s":"B3","x":332.3,"y":137.3},{"s":"B3","x":332.1,"y":150.7},{"s":"B3","x":331.9,"y":127.3},{"s":"B3","x":331.7,"y":144},
      {"s":"B3","x":331.5,"y":130.7},{"s":"B3","x":331.3,"y":154},{"s":"B3","x":331.1,"y":135.7},{"s":"B3","x":330.9,"y":160.7},
      {"s":"B3","x":330.7,"y":137.3},{"s":"B3","x":330.5,"y":147.3},{"s":"B3","x":330.3,"y":127.3},{"s":"B3","x":330.1,"y":142.3},
      {"s":"B3","x":345.8,"y":148.4},{"s":"B3","x":345.6,"y":139.5},{"s":"B3","x":345.4,"y":149.5},{"s":"B3","x":345.2,"y":146.5},
      {"s":"B3","x":345.0,"y":154.8},{"s":"B3","x":344.8,"y":149.3},{"s":"B3","x":344.6,"y":158},{"s":"B3","x":344.4,"y":151.7},
      {"s":"B3","x":344.2,"y":160.4},{"s":"B3","x":344.0,"y":153.2},{"s":"B3","x":343.8,"y":155.2},{"s":"B3","x":343.6,"y":134.4},
      {"s":"B3","x":343.4,"y":135.2},{"s":"B3","x":343.2,"y":147.9},{"s":"B3","x":343.0,"y":153.4},{"s":"B3","x":342.8,"y":167},
      {"s":"B3","x":342.6,"y":160.2},{"s":"B3","x":342.4,"y":168.9},{"s":"B3","x":342.2,"y":162.5},{"s":"B3","x":342.0,"y":171.3},
      {"s":"B3","x":341.8,"y":164.2},{"s":"B3","x":341.6,"y":173.9},{"s":"B3","x":341.4,"y":166.7},{"s":"B3","x":341.2,"y":175.5},
      {"s":"B3","x":341.0,"y":170.2},{"s":"B3","x":340.8,"y":178},{"s":"B3","x":340.6,"y":177.9},{"s":"B3","x":340.4,"y":171.4},
      {"s":"B3","x":340.2,"y":164.7},{"s":"B3","x":340.0,"y":168.7},{"s":"B3","x":339.8,"y":163.4},{"s":"B3","x":339.6,"y":169.7},
      {"s":"B3","x":339.4,"y":161.9},{"s":"B3","x":339.2,"y":167.2},{"s":"B3","x":339.0,"y":161.8},{"s":"B3","x":338.8,"y":169.5},
      {"s":"B3","x":338.6,"y":161},{"s":"B3","x":338.4,"y":158.7},{"s":"B3","x":338.2,"y":142.9},{"s":"B3","x":338.0,"y":150.2},
      {"s":"B3","x":337.8,"y":159.2},{"s":"B3","x":337.6,"y":166.4},{"s":"B3","x":337.4,"y":163.5},{"s":"B3","x":337.2,"y":173.9},
      {"s":"B3","x":337.0,"y":169.2},{"s":"B3","x":336.8,"y":181.4},{"s":"B3","x":336.6,"y":175.9},{"s":"B3","x":336.4,"y":185.5},
      {"s":"B3","x":336.2,"y":178.3},{"s":"B3","x":336.0,"y":187.2},{"s":"B3","x":335.8,"y":179.9},{"s":"B3","x":335.6,"y":186.2},
      {"s":"B3","x":335.4,"y":175},{"s":"B3","x":335.2,"y":178.8},{"s":"B3","x":335.0,"y":168.3},{"s":"B3","x":334.8,"y":174.7},
      {"s":"B3","x":334.6,"y":165},{"s":"B3","x":334.4,"y":170.4},{"s":"B3","x":334.2,"y":160.9},{"s":"B3","x":334.0,"y":165.5},
      {"s":"B3","x":333.8,"y":154},{"s":"B3","x":333.6,"y":158},{"s":"B3","x":333.4,"y":146.7},{"s":"B3","x":333.2,"y":151.3},
      {"s":"B3","x":333.0,"y":138.3},{"s":"B3","x":332.8,"y":144.8},{"s":"B3","x":332.6,"y":147.2},{"s":"B3","x":332.4,"y":141.7},
      {"s":"B3","x":332.2,"y":148},{"s":"B3","x":332.0,"y":135},{"s":"B3","x":331.8,"y":140.7},{"s":"B3","x":331.6,"y":133.4},
      {"s":"B3","x":331.4,"y":146.4},{"s":"B3","x":331.2,"y":140.9},{"s":"B3","x":331.0,"y":152.2},{"s":"B3","x":330.8,"y":145},
      {"s":"B3","x":330.6,"y":146.3},{"s":"B3","x":330.4,"y":141.3},{"s":"B3","x":330.2,"y":130.8},

      {"s":"B4","x":345.9,"y":105.7},{"s":"B4","x":345.7,"y":100.7},{"s":"B4","x":345.5,"y":94},{"s":"B4","x":345.3,"y":84},
      {"s":"B4","x":345.1,"y":60.7},{"s":"B4","x":344.9,"y":107.3},{"s":"B4","x":344.7,"y":94},{"s":"B4","x":344.5,"y":40.7},
      {"s":"B4","x":344.3,"y":84},{"s":"B4","x":344.1,"y":90.7},{"s":"B4","x":343.9,"y":97.3},{"s":"B4","x":343.7,"y":87.3},
      {"s":"B4","x":343.5,"y":104},{"s":"B4","x":343.3,"y":94},{"s":"B4","x":343.1,"y":110.7},{"s":"B4","x":342.9,"y":100.7},
      {"s":"B4","x":342.7,"y":84},{"s":"B4","x":342.5,"y":47.3},{"s":"B4","x":342.3,"y":94},{"s":"B4","x":342.1,"y":104},
      {"s":"B4","x":341.9,"y":90.7},{"s":"B4","x":341.7,"y":107.3},{"s":"B4","x":341.5,"y":97.3},{"s":"B4","x":341.3,"y":110.7},
      {"s":"B4","x":341.1,"y":94},{"s":"B4","x":340.9,"y":47.3},{"s":"B4","x":340.7,"y":109},{"s":"B4","x":340.5,"y":110.7},
      {"s":"B4","x":340.3,"y":97.3},{"s":"B4","x":340.1,"y":107.3},{"s":"B4","x":339.9,"y":87.3},{"s":"B4","x":339.7,"y":100.7},
      {"s":"B4","x":339.5,"y":80.7},{"s":"B4","x":339.3,"y":94},{"s":"B4","x":339.1,"y":97.3},{"s":"B4","x":338.9,"y":70.7},
      {"s":"B4","x":338.7,"y":57.3},{"s":"B4","x":338.5,"y":60.7},{"s":"B4","x":338.3,"y":50.7},{"s":"B4","x":338.1,"y":67.3},
      {"s":"B4","x":337.9,"y":54},{"s":"B4","x":337.7,"y":74},{"s":"B4","x":337.5,"y":94},{"s":"B4","x":337.3,"y":77.3},
      {"s":"B4","x":337.1,"y":44},{"s":"B4","x":336.9,"y":67.3},{"s":"B4","x":336.7,"y":54},{"s":"B4","x":336.5,"y":37.3},
      {"s":"B4","x":336.3,"y":64},{"s":"B4","x":336.1,"y":77.3},{"s":"B4","x":335.9,"y":50.7},{"s":"B4","x":335.7,"y":67.3},
      {"s":"B4","x":335.5,"y":44},{"s":"B4","x":335.3,"y":60.7},{"s":"B4","x":335.1,"y":84},{"s":"B4","x":334.9,"y":94},
      {"s":"B4","x":334.7,"y":34},{"s":"B4","x":334.5,"y":77.3},{"s":"B4","x":334.3,"y":27.3},{"s":"B4","x":334.1,"y":80.7},
      {"s":"B4","x":333.9,"y":40.7},{"s":"B4","x":333.7,"y":54},{"s":"B4","x":333.5,"y":30.7},{"s":"B4","x":333.3,"y":50.7},
      {"s":"B4","x":333.1,"y":20.7},{"s":"B4","x":332.9,"y":54},{"s":"B4","x":332.7,"y":77.3},{"s":"B4","x":332.5,"y":44},
      {"s":"B4","x":332.3,"y":60.7},{"s":"B4","x":332.1,"y":27.3},{"s":"B4","x":331.9,"y":54},{"s":"B4","x":331.7,"y":67.3},
      {"s":"B4","x":331.5,"y":44},{"s":"B4","x":331.3,"y":50.7},{"s":"B4","x":331.1,"y":67.3},{"s":"B4","x":330.9,"y":70.7},
      {"s":"B4","x":330.7,"y":54},{"s":"B4","x":330.5,"y":50.7},{"s":"B4","x":330.3,"y":34},{"s":"B4","x":330.1,"y":40.7},
      {"s":"B4","x":345.8,"y":97.2},{"s":"B4","x":345.6,"y":105.4},{"s":"B4","x":345.4,"y":81},{"s":"B4","x":345.2,"y":82.4},
      {"s":"B4","x":345.0,"y":96},{"s":"B4","x":344.8,"y":106.7},{"s":"B4","x":344.6,"y":73.4},{"s":"B4","x":344.4,"y":70.4},
      {"s":"B4","x":344.2,"y":97.4},{"s":"B4","x":344.0,"y":84},{"s":"B4","x":343.8,"y":102.3},{"s":"B4","x":343.6,"y":87.7},
      {"s":"B4","x":343.4,"y":107},{"s":"B4","x":343.2,"y":92.4},{"s":"B4","x":343.0,"y":109.7},{"s":"B4","x":342.8,"y":98.4},
      {"s":"B4","x":342.6,"y":69.7},{"s":"B4","x":342.4,"y":76.7},{"s":"B4","x":342.2,"y":91},{"s":"B4","x":342.0,"y":107.4},
      {"s":"B4","x":341.8,"y":89},{"s":"B4","x":341.6,"y":108.3},{"s":"B4","x":341.4,"y":94},{"s":"B4","x":341.2,"y":108.4},
      {"s":"B4","x":341.0,"y":76.7},{"s":"B4","x":340.8,"y":88.2},{"s":"B4","x":340.6,"y":101.9},{"s":"B4","x":340.4,"y":110},
      {"s":"B4","x":340.2,"y":92.3},{"s":"B4","x":340.0,"y":105.3},{"s":"B4","x":339.8,"y":86},{"s":"B4","x":339.6,"y":98.7},
      {"s":"B4","x":339.4,"y":79.4},{"s":"B4","x":339.2,"y":89.7},{"s":"B4","x":339.0,"y":92},{"s":"B4","x":338.8,"y":72},
      {"s":"B4","x":338.6,"y":53},{"s":"B4","x":338.4,"y":65.7},{"s":"B4","x":338.2,"y":53},{"s":"B4","x":338.0,"y":68.7},
      {"s":"B4","x":337.8,"y":56},{"s":"B4","x":337.6,"y":78},{"s":"B4","x":337.4,"y":91.7},{"s":"B4","x":337.2,"y":66.7},
      {"s":"B4","x":337.0,"y":49.7},{"s":"B4","x":336.8,"y":68.7},{"s":"B4","x":336.6,"y":53.7},{"s":"B4","x":336.4,"y":44.7},
      {"s":"B4","x":336.2,"y":78.7},{"s":"B4","x":336.0,"y":56},{"s":"B4","x":335.8,"y":67},{"s":"B4","x":335.6,"y":47.7},
      {"s":"B4","x":335.4,"y":60.4},{"s":"B4","x":335.2,"y":66.4},{"s":"B4","x":335.0,"y":95},{"s":"B4","x":334.8,"y":58},
      {"s":"B4","x":334.6,"y":65.7},{"s":"B4","x":334.4,"y":60.3},{"s":"B4","x":334.2,"y":60},{"s":"B4","x":334.0,"y":54.7},
      {"s":"B4","x":333.8,"y":55.4},{"s":"B4","x":333.6,"y":34.4},{"s":"B4","x":333.4,"y":48.7},{"s":"B4","x":333.2,"y":45.7},
      {"s":"B4","x":333.0,"y":43.4},{"s":"B4","x":332.8,"y":59.7},{"s":"B4","x":332.6,"y":66.7},{"s":"B4","x":332.4,"y":44.4},
      {"s":"B4","x":332.2,"y":54},{"s":"B4","x":332.0,"y":48.7},{"s":"B4","x":331.8,"y":52.7},{"s":"B4","x":331.6,"y":63.7},
      {"s":"B4","x":331.4,"y":39.4},{"s":"B4","x":331.2,"y":65},{"s":"B4","x":331.0,"y":61},{"s":"B4","x":330.8,"y":70.4},
      {"s":"B4","x":330.6,"y":46.4},{"s":"B4","x":330.4,"y":48.4},{"s":"B4","x":330.2,"y":31.4}
    ],
    "textB": [
      {"t":"B","x":346.93,"y":397.5,"k":"p"},
      {"t":"Pd/Ce/Al-R","x":345.62,"y":397.5,"k":"h"},
      {"t":"Ce/Pd/Al-R","x":345.62,"y":204.5,"k":"h"},
      {"t":"Spent","x":329.86,"y":311.5,"k":"s"},
      {"t":"Fresh","x":329.9,"y":212.3,"k":"s"},
      {"t":"Spent","x":329.82,"y":112.5,"k":"s"},
      {"t":"Fresh","x":329.9,"y":9,"k":"s"}
    ]
  },
  "hconcat": [
    {
      "width": 247,
      "height": 419,
      "encoding": {
        "x": {"field": "x", "type": "quantitative", "scale": {"domain": [330, 346], "reverse": true, "nice": false, "zero": false},
          "axis": {"values": [345, 343.5, 342, 340.5, 339, 337.5, 336, 334.5, 333, 331.5, 330], "labelExpr": "datum.value % 3 === 0 ? datum.label : ''", "tickSize": {"condition": {"test": "datum.value % 3 === 0", "value": 6}, "value": 3.5}, "labelOverlap": false, "title": "Binding Energy (eV)"}}
      },
      "layer": [
        {"data": {"name": "fitsA"}, "mark": {"type": "line", "color": "#bdbdbd", "strokeWidth": 2.5, "interpolate": "monotone"},
         "encoding": {"y": {"field": "env", "type": "quantitative", "scale": {"domain": [0, 419], "nice": false, "zero": false}, "axis": {"title": null}}, "detail": {"field": "s"}}},
        {"data": {"name": "fitsA"}, "mark": {"type": "line", "color": "#8f8f8f", "strokeWidth": 1.6, "interpolate": "monotone"},
         "encoding": {"y": {"field": "bg", "type": "quantitative", "scale": {"domain": [0, 419], "nice": false, "zero": false}, "axis": {"title": null}}, "detail": {"field": "s"}}},
        {"data": {"name": "rawA"}, "mark": {"type": "line", "color": "#303030", "strokeWidth": 0.8},
         "encoding": {"y": {"field": "y", "type": "quantitative", "scale": {"domain": [0, 419], "nice": false, "zero": false}, "axis": {"title": null}}, "detail": {"field": "s"}}},
        {"data": {"name": "pdA"}, "mark": {"type": "line", "strokeWidth": 1.6, "interpolate": "monotone"},
         "encoding": {"y": {"field": "y", "type": "quantitative", "scale": {"domain": [0, 419], "nice": false, "zero": false}, "axis": {"title": null}}, "detail": {"field": "s"},
           "color": {"datum": "Pd", "type": "nominal", "scale": {"domain": ["Pd", "PdO", "PdOx"], "range": ["#1c1c8c", "#e0455c", "#ffa040"]}, "legend": null}}},
        {"data": {"name": "fitsA"}, "mark": {"type": "line", "strokeWidth": 1.6, "interpolate": "monotone"},
         "encoding": {"y": {"field": "PdOx", "type": "quantitative", "scale": {"domain": [0, 419], "nice": false, "zero": false}, "axis": {"title": null}}, "detail": {"field": "s"},
           "color": {"datum": "PdOx", "type": "nominal", "scale": {"domain": ["Pd", "PdO", "PdOx"], "range": ["#1c1c8c", "#e0455c", "#ffa040"]}, "legend": null}}},
        {"data": {"name": "fitsA"}, "mark": {"type": "line", "strokeWidth": 1.6, "interpolate": "monotone"},
         "encoding": {"y": {"field": "PdO", "type": "quantitative", "scale": {"domain": [0, 419], "nice": false, "zero": false}, "axis": {"title": null}}, "detail": {"field": "s"},
           "color": {"datum": "PdO", "type": "nominal", "scale": {"domain": ["Pd", "PdO", "PdOx"], "range": ["#1c1c8c", "#e0455c", "#ffa040"]}, "legend": null}}},
        {"data": {"name": "textA"}, "transform": [{"filter": "datum.k === 'h'"}], "mark": {"type": "text", "align": "left", "baseline": "alphabetic", "fontWeight": "bold", "fontSize": 19, "color": "#111"},
         "encoding": {"y": {"field": "y", "type": "quantitative", "scale": {"domain": [0, 419], "nice": false, "zero": false}, "axis": {"title": null}}, "text": {"field": "t"}}},
        {"data": {"name": "textA"}, "transform": [{"filter": "datum.k === 'p'"}], "mark": {"type": "text", "align": "center", "baseline": "alphabetic", "fontWeight": "bold", "fontSize": 20, "color": "#111"},
         "encoding": {"y": {"field": "y", "type": "quantitative", "scale": {"domain": [0, 419], "nice": false, "zero": false}, "axis": {"title": null}}, "text": {"field": "t"}}},
        {"data": {"name": "textA"}, "transform": [{"filter": "datum.k === 's'"}], "mark": {"type": "text", "align": "right", "baseline": "alphabetic", "fontSize": 17.5, "color": "#111"},
         "encoding": {"y": {"field": "y", "type": "quantitative", "scale": {"domain": [0, 419], "nice": false, "zero": false}, "axis": {"title": null}}, "text": {"field": "t"}}}
      ]
    },
    {
      "width": 264,
      "height": 419,
      "encoding": {
        "x": {"field": "x", "type": "quantitative", "scale": {"domain": [330, 346], "reverse": true, "nice": false, "zero": false},
          "axis": {"values": [345, 343.5, 342, 340.5, 339, 337.5, 336, 334.5, 333, 331.5, 330], "labelExpr": "datum.value % 3 === 0 ? datum.label : ''", "tickSize": {"condition": {"test": "datum.value % 3 === 0", "value": 6}, "value": 3.5}, "labelOverlap": false, "title": "Binding Energy (eV)"}}
      },
      "layer": [
        {"data": {"name": "fitsB"}, "mark": {"type": "line", "color": "#bdbdbd", "strokeWidth": 2.5, "interpolate": "monotone"},
         "encoding": {"y": {"field": "env", "type": "quantitative", "scale": {"domain": [0, 419], "nice": false, "zero": false}, "axis": {"title": null}}, "detail": {"field": "s"}}},
        {"data": {"name": "fitsB"}, "mark": {"type": "line", "color": "#a8a8a8", "strokeWidth": 1.6, "interpolate": "monotone"},
         "encoding": {"y": {"field": "bg", "type": "quantitative", "scale": {"domain": [0, 419], "nice": false, "zero": false}, "axis": {"title": null}}, "detail": {"field": "s"}}},
        {"data": {"name": "rawB"}, "mark": {"type": "line", "color": "#303030", "strokeWidth": 0.8},
         "encoding": {"y": {"field": "y", "type": "quantitative", "scale": {"domain": [0, 419], "nice": false, "zero": false}, "axis": {"title": null}}, "detail": {"field": "s"}}},
        {"data": {"name": "pdB"}, "mark": {"type": "line", "strokeWidth": 1.6, "interpolate": "monotone"},
         "encoding": {"y": {"field": "y", "type": "quantitative", "scale": {"domain": [0, 419], "nice": false, "zero": false}, "axis": {"title": null}}, "detail": {"field": "s"},
           "color": {"datum": "Pd", "type": "nominal", "scale": {"domain": ["Pd", "PdO", "PdOx"], "range": ["#1c1c8c", "#e0455c", "#ffa040"]},
             "legend": {"orient": "none", "legendX": 188, "legendY": -44, "title": null, "symbolType": "M-2,0H2", "symbolSize": 484, "symbolStrokeWidth": 2, "labelFontSize": 19, "labelColor": "#111", "labelOffset": 16, "rowPadding": 0, "labelExpr": "datum.label === 'PdOx' ? 'PdOₓ' : datum.label"}}}},
        {"data": {"name": "fitsB"}, "transform": [{"filter": "isValid(datum.PdOx)"}], "mark": {"type": "line", "strokeWidth": 1.6, "interpolate": "monotone"},
         "encoding": {"y": {"field": "PdOx", "type": "quantitative", "scale": {"domain": [0, 419], "nice": false, "zero": false}, "axis": {"title": null}}, "detail": {"field": "s"},
           "color": {"datum": "PdOx", "type": "nominal", "scale": {"domain": ["Pd", "PdO", "PdOx"], "range": ["#1c1c8c", "#e0455c", "#ffa040"]},
             "legend": {"orient": "none", "legendX": 188, "legendY": -44, "title": null, "symbolType": "M-2,0H2", "symbolSize": 484, "symbolStrokeWidth": 2, "labelFontSize": 19, "labelColor": "#111", "labelOffset": 16, "rowPadding": 0, "labelExpr": "datum.label === 'PdOx' ? 'PdOₓ' : datum.label"}}}},
        {"data": {"name": "fitsB"}, "transform": [{"filter": "isValid(datum.PdO)"}], "mark": {"type": "line", "strokeWidth": 1.6, "interpolate": "monotone"},
         "encoding": {"y": {"field": "PdO", "type": "quantitative", "scale": {"domain": [0, 419], "nice": false, "zero": false}, "axis": {"title": null}}, "detail": {"field": "s"},
           "color": {"datum": "PdO", "type": "nominal", "scale": {"domain": ["Pd", "PdO", "PdOx"], "range": ["#1c1c8c", "#e0455c", "#ffa040"]},
             "legend": {"orient": "none", "legendX": 188, "legendY": -44, "title": null, "symbolType": "M-2,0H2", "symbolSize": 484, "symbolStrokeWidth": 2, "labelFontSize": 19, "labelColor": "#111", "labelOffset": 16, "rowPadding": 0, "labelExpr": "datum.label === 'PdOx' ? 'PdOₓ' : datum.label"}}}},
        {"data": {"name": "textB"}, "transform": [{"filter": "datum.k === 'h'"}], "mark": {"type": "text", "align": "left", "baseline": "alphabetic", "fontWeight": "bold", "fontSize": 19, "color": "#111"},
         "encoding": {"y": {"field": "y", "type": "quantitative", "scale": {"domain": [0, 419], "nice": false, "zero": false}, "axis": {"title": null}}, "text": {"field": "t"}}},
        {"data": {"name": "textB"}, "transform": [{"filter": "datum.k === 'p'"}], "mark": {"type": "text", "align": "center", "baseline": "alphabetic", "fontWeight": "bold", "fontSize": 20, "color": "#111"},
         "encoding": {"y": {"field": "y", "type": "quantitative", "scale": {"domain": [0, 419], "nice": false, "zero": false}, "axis": {"title": null}}, "text": {"field": "t"}}},
        {"data": {"name": "textB"}, "transform": [{"filter": "datum.k === 's'"}], "mark": {"type": "text", "align": "right", "baseline": "alphabetic", "fontSize": 17.5, "color": "#111"},
         "encoding": {"y": {"field": "y", "type": "quantitative", "scale": {"domain": [0, 419], "nice": false, "zero": false}, "axis": {"title": null}}, "text": {"field": "t"}}}
      ]
    }
  ]
}
